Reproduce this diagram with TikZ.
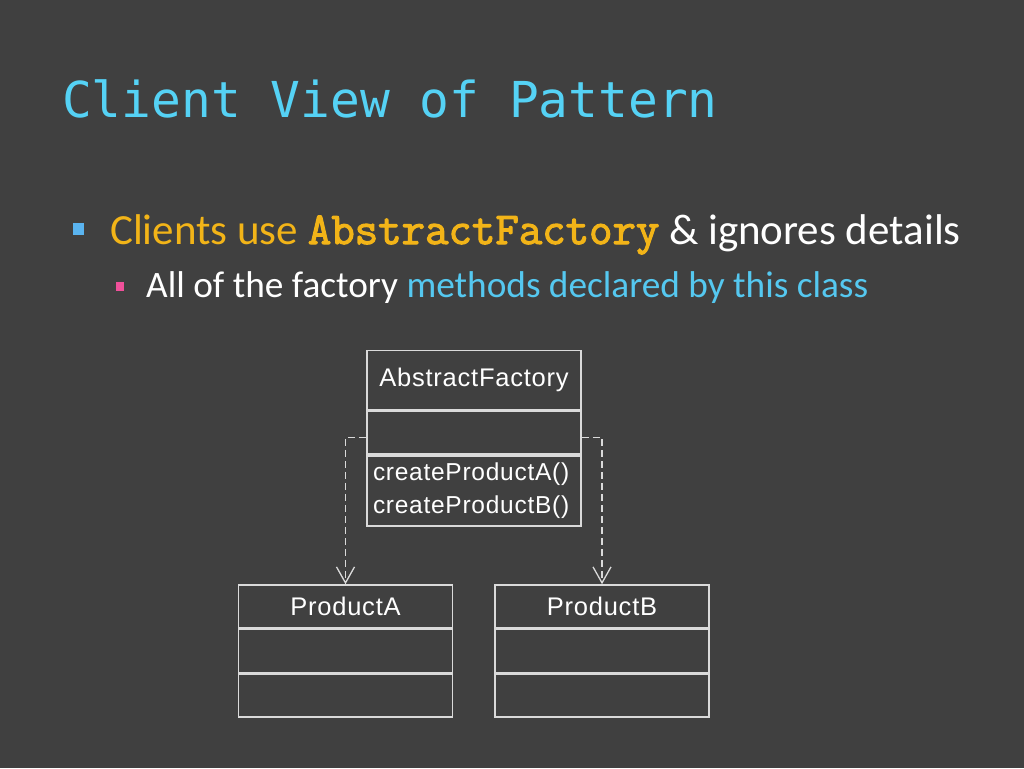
\documentclass[tikz,border=0pt]{standalone}
\usepackage{fontspec}
\setmainfont{Carlito}
\newfontfamily\titlefont{DejaVu Sans Mono}
\newfontfamily\codefont[FakeBold=2.5]{Latin Modern Mono}
\newfontfamily\umlfont[LetterSpace=3]{Liberation Sans}
\usetikzlibrary{arrows.meta,positioning}
\definecolor{slidebg}{HTML}{404040}
\definecolor{titleblue}{HTML}{55D2F5}
\definecolor{accent}{HTML}{F2B418}
\definecolor{linkblue}{HTML}{55C8F0}
\definecolor{dotblue}{HTML}{5AB4F0}
\definecolor{dotpink}{HTML}{F0509A}
\definecolor{umlline}{HTML}{DADADA}
\tikzstyle{part} = [draw=umlline,line width=1.6pt,rectangle,inner sep=0,text=white,font=\umlfont\fontsize{25.5}{28}\selectfont]
\tikzstyle{depend} = [draw=umlline,line width=1.5pt,dash pattern=on 7pt off 4pt,-{Straight Barb[length=16pt,width=18pt,line width=1.3pt]}]
\def \pw {214pt}
\def \ph {43pt}

\begin{document}
\begin{tikzpicture}[x=1pt,y=-1pt]
      \fill[slidebg] (0,0) rectangle (1024,768);
      \node[anchor=base west,text=titleblue,font=\titlefont\fontsize{49.5}{56}\selectfont,inner sep=0] (title) at (62,117) {Client View of Pattern};
      \fill[dotblue] (73,223) rectangle (84,235);
      \node[anchor=base west,inner sep=0,font=\fontsize{43}{50}\selectfont,text=white] (pointa) at (110,244)
        {\textcolor{accent}{Clients use {\codefont\fontsize{45.5}{50}\selectfont AbstractFactory}} \& ignores details};
      \fill[dotpink] (116,282) rectangle (124,291);
      \node[anchor=base west,inner sep=0,font=\fontsize{37.3}{44}\selectfont,text=white] (pointb) at (146,297)
        {All of the factory \textcolor{linkblue}{methods declared by this class}};
      % AbstractFactory class
      \node[part,minimum width=\pw,minimum height=59pt] (fname) at (474,380) {AbstractFactory};
      \node[part,minimum width=\pw,minimum height=\ph,below=0pt of fname] (fattr) {};
      \node[part,minimum width=\pw,minimum height=70pt,below=0pt of fattr,align=left,text width=202pt,inner xsep=6pt,font=\umlfont\fontsize{24.5}{33}\selectfont] (fmeth) {createProductA()\\createProductB()};
      % products
      \node[part,minimum width=\pw,minimum height=\ph] (aname) at (345.5,606.5) {ProductA};
      \node[part,minimum width=\pw,minimum height=\ph,below=0pt of aname] (aattr) {};
      \node[part,minimum width=\pw,minimum height=\ph,below=0pt of aattr] (ameth) {};
      \node[part,minimum width=\pw,minimum height=\ph] (bname) at (602,606.5) {ProductB};
      \node[part,minimum width=\pw,minimum height=\ph,below=0pt of bname] (battr) {};
      \node[part,minimum width=\pw,minimum height=\ph,below=0pt of battr] (bmeth) {};
      \draw[depend] ([yshift=-5pt]fattr.west) -| (aname.north);
      \draw[depend] ([yshift=-5pt]fattr.east) -| (bname.north);
    \end{tikzpicture}
\end{document}
